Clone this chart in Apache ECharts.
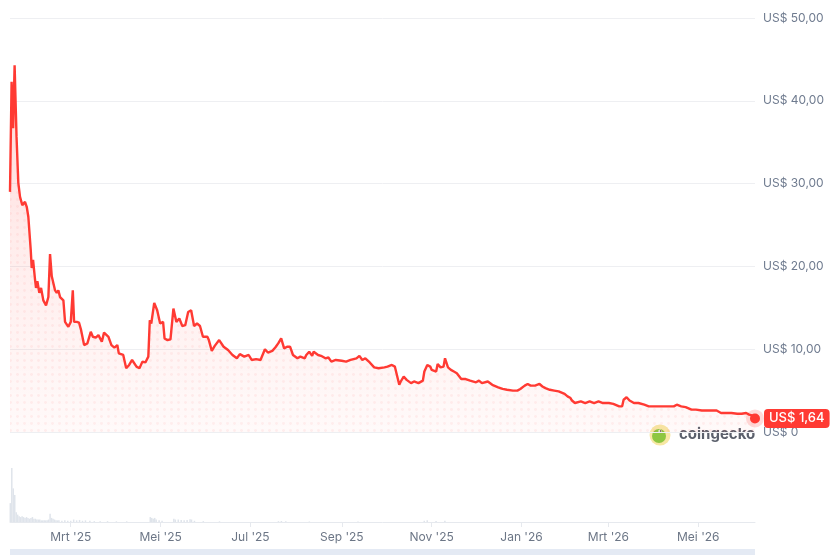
<!DOCTYPE html>
<html>
<head>
<meta charset="utf-8">
<script src="https://cdn.jsdelivr.net/npm/echarts@6.0.0/dist/echarts.min.js"></script>
<style>
html,body{margin:0;padding:0;background:#fff;}
#chart{width:836px;height:555px;}
</style>
</head>
<body>
<div id="chart"></div>
<script>
const dates = [
'2025-01-19 07:00','2025-01-20 09:00','2025-01-21 10:00','2025-01-22 10:00','2025-01-23 17:00','2025-01-24 22:00',
'2025-01-26 02:00','2025-01-27 15:00','2025-01-29 11:00','2025-01-30 15:00','2025-01-31 17:00','2025-02-02 08:00',
'2025-02-03 00:00','2025-02-03 22:00','2025-02-05 06:00','2025-02-05 22:00','2025-02-06 20:00','2025-02-08 04:00',
'2025-02-09 08:00','2025-02-10 21:00','2025-02-12 17:00','2025-02-14 07:00','2025-02-15 10:00','2025-02-16 14:00',
'2025-02-17 16:00','2025-02-18 20:00','2025-02-19 23:00','2025-02-21 01:00','2025-02-22 05:00','2025-02-23 09:00',
'2025-02-24 11:00','2025-02-25 14:00','2025-02-26 18:00','2025-02-27 20:00','2025-03-01 11:00','2025-03-02 20:00',
'2025-03-03 17:00','2025-03-05 13:00','2025-03-07 02:00','2025-03-08 11:00','2025-03-10 12:00','2025-03-12 17:00',
'2025-03-15 00:00','2025-03-16 10:00','2025-03-18 10:00','2025-03-20 05:00','2025-03-22 12:00',
'2025-03-24','2025-03-27','2025-03-29','2025-03-31','2025-04-02','2025-04-03','2025-04-06','2025-04-08','2025-04-10',
'2025-04-12','2025-04-15','2025-04-17','2025-04-19','2025-04-21','2025-04-23','2025-04-24','2025-04-25','2025-04-27',
'2025-04-29','2025-05-01','2025-05-03','2025-05-04','2025-05-06','2025-05-08','2025-05-10','2025-05-12','2025-05-14',
'2025-05-16','2025-05-18','2025-05-20','2025-05-22','2025-05-24','2025-05-26','2025-05-28','2025-05-30','2025-06-02',
'2025-06-03','2025-06-05','2025-06-07','2025-06-10','2025-06-13','2025-06-16','2025-06-19','2025-06-22','2025-06-24',
'2025-06-27','2025-06-30','2025-07-02','2025-07-05','2025-07-08','2025-07-09','2025-07-11','2025-07-13','2025-07-16',
'2025-07-18','2025-07-20','2025-07-22','2025-07-24','2025-07-26','2025-07-28','2025-07-30','2025-08-02','2025-08-04',
'2025-08-07','2025-08-08','2025-08-10','2025-08-12','2025-08-13','2025-08-16','2025-08-18','2025-08-21','2025-08-23',
'2025-08-25','2025-08-28','2025-09-01','2025-09-04','2025-09-07','2025-09-11','2025-09-13','2025-09-15','2025-09-17',
'2025-09-20','2025-09-23','2025-09-26','2025-09-30','2025-10-02','2025-10-05','2025-10-07','2025-10-10','2025-10-11',
'2025-10-13','2025-10-15','2025-10-18','2025-10-20','2025-10-23','2025-10-26','2025-10-27','2025-10-29','2025-10-31',
'2025-11-01','2025-11-04','2025-11-05','2025-11-07','2025-11-09','2025-11-10','2025-11-12','2025-11-14','2025-11-16',
'2025-11-18','2025-11-21','2025-11-24','2025-11-27','2025-12-01','2025-12-03','2025-12-05','2025-12-09','2025-12-12',
'2025-12-16','2025-12-19','2025-12-22','2025-12-26','2025-12-29','2025-12-31','2026-01-03','2026-01-05','2026-01-07',
'2026-01-10','2026-01-13','2026-01-15','2026-01-17','2026-01-20','2026-01-23','2026-01-26','2026-01-30','2026-02-01',
'2026-02-03','2026-02-04','2026-02-06','2026-02-10','2026-02-13','2026-02-16','2026-02-19','2026-02-22','2026-02-25',
'2026-03-01','2026-03-04','2026-03-08','2026-03-10','2026-03-11','2026-03-13','2026-03-15','2026-03-18','2026-03-21',
'2026-03-25','2026-03-28','2026-03-31','2026-04-04','2026-04-07','2026-04-11','2026-04-14','2026-04-16','2026-04-19',
'2026-04-22','2026-04-26','2026-04-29','2026-05-03','2026-05-06','2026-05-10','2026-05-13','2026-05-16','2026-05-20',
'2026-05-23','2026-05-27','2026-05-30','2026-06-02','2026-06-04','2026-06-06','2026-06-08'
];
const prices = [
29.0,42.3,36.7,44.3,35.7,30.1,
28.4,27.4,27.8,27.2,26.0,22.0,
19.8,20.8,18.4,17.4,18.2,16.8,
17.4,15.9,15.3,16.3,21.5,18.8,
18.8,17.1,16.8,17.1,16.3,16.5,
15.9,13.3,13.3,12.7,13.3,17.1,
13.3,13.3,13.2,12.3,10.5,10.7,
12.1,11.5,11.4,11.7,10.9,
12.0,11.5,10.5,10.2,10.5,9.5,9.3,7.7,8.1,
8.7,7.9,7.7,8.5,8.4,9.1,13.5,13.1,15.6,
14.7,13.1,13.3,11.3,11.1,11.2,14.9,13.3,13.7,
12.8,12.9,14.5,14.7,12.8,13.1,12.8,11.5,11.5,
11.1,9.8,10.4,11.1,10.3,9.9,9.3,8.9,9.4,
9.1,9.3,8.7,8.8,8.7,8.9,10.0,9.6,9.8,
10.2,10.7,11.3,10.1,10.3,10.3,9.3,8.9,9.1,
8.9,9.3,9.7,9.2,9.7,9.3,9.2,8.9,9.0,
8.5,8.7,8.6,8.5,8.7,8.9,9.2,8.7,8.9,
8.4,7.8,7.7,7.8,7.9,8.1,7.9,5.7,6.1,
6.7,6.3,5.9,6.1,5.9,6.2,7.3,8.1,7.9,
7.5,7.3,8.2,7.8,7.9,8.9,7.8,7.5,7.3,
7.1,6.4,6.4,6.2,6.0,6.2,5.9,6.1,5.7,
5.4,5.2,5.1,5.0,5.0,5.2,5.6,5.8,5.6,
5.6,5.8,5.5,5.3,5.1,5.0,4.9,4.6,4.3,
4.1,3.8,3.5,3.7,3.5,3.7,3.5,3.7,3.5,
3.5,3.4,3.1,3.1,3.9,4.2,3.8,3.5,3.5,
3.3,3.1,3.1,3.1,3.1,3.1,3.1,3.3,3.1,
3.0,2.7,2.7,2.6,2.6,2.6,2.6,2.3,2.3,
2.3,2.2,2.2,2.3,2.1,2.0,1.64
];
const volDates = [
'2025-01-19','2025-01-20','2025-01-21','2025-01-22','2025-01-23','2025-01-24','2025-01-25','2025-01-26','2025-01-27',
'2025-01-28','2025-01-29','2025-01-30','2025-01-31','2025-02-01','2025-02-02','2025-02-03','2025-02-04','2025-02-05',
'2025-02-06','2025-02-07','2025-02-08','2025-02-09','2025-02-10','2025-02-11','2025-02-12','2025-02-13','2025-02-14',
'2025-02-15','2025-02-16','2025-02-17','2025-02-18','2025-02-19','2025-02-20','2025-02-21','2025-02-23','2025-02-25',
'2025-02-27','2025-03-01','2025-03-03','2025-03-05','2025-03-07','2025-03-09','2025-03-11','2025-03-14','2025-03-17',
'2025-03-21','2025-03-26','2025-04-01','2025-04-08','2025-04-24','2025-04-25','2025-04-26','2025-04-27','2025-04-28',
'2025-04-30','2025-05-02','2025-05-10','2025-05-11','2025-05-13','2025-05-15','2025-05-17','2025-05-19','2025-05-21',
'2025-05-22','2025-05-24','2025-05-30','2025-06-10','2025-07-20','2025-07-22','2025-07-25','2025-08-10','2025-09-12',
'2025-10-27','2025-10-29','2025-11-04','2025-11-10'
];
const volumes = [
23,66,41,33,12,9,7,6,7,
6,5,6,5,4,5,6,4,4,
3,3,3,2,2,2,2,2,3,
10,5,4,3,2,2,2,1.5,2,
1.5,1.5,3,2,2.5,1.5,2,1.5,1,
1,1,0.8,0.8,6,5,4,5,3,
2,1.5,4,3,3,2.5,2,2.5,3.5,
3,1.5,1,0.8,1,1.2,0.8,0.6,0.6,
1.5,2,1.2,1.5
];
const monthNames = ['Jan','Feb','Mrt','Apr','Mei','Jun','Jul','Aug','Sep','Okt','Nov','Dec'];
const yTicks = [0,10,20,30,40,50];
const yTickLabels = ['US$ 0','US$ 10,00','US$ 20,00','US$ 30,00','US$ 40,00','US$ 50,00'];

const RED = '#ff3a33';
const FONT = 'Inter, "Noto Sans", sans-serif';
const pc = document.createElement('canvas');
pc.width = 7; pc.height = 7;
const pctx = pc.getContext('2d');
pctx.fillStyle = 'rgba(255,58,51,0.09)';
pctx.beginPath(); pctx.arc(3.5, 3.5, 1.4, 0, Math.PI * 2); pctx.fill();

const priceData = dates.map((d, i) => [d, prices[i]]);
const volData = volDates.map((d, i) => [d, volumes[i]]);
const last = priceData[priceData.length - 1];
const xMin = dates[0];
const xMax = dates[dates.length - 1];
const DAY = 86400000;

const chart = echarts.init(document.getElementById('chart'));
chart.setOption({
  animation: false,
  textStyle: { fontFamily: FONT },
  grid: [
    { left: 10, right: 81, top: 18, height: 414 },
    { left: 10, right: 81, top: 440, height: 82 }
  ],
  xAxis: [
    { type: 'time', gridIndex: 0, min: xMin, max: xMax, show: false, splitLine: { show: false } },
    {
      type: 'time', gridIndex: 1, min: xMin, max: xMax,
      splitNumber: 8, minInterval: 62 * DAY, maxInterval: 75 * DAY,
      axisLine: { lineStyle: { color: '#e6e9ee', width: 1 } },
      axisTick: { show: true, length: 5, lineStyle: { color: '#e6e9ee' } },
      splitLine: { show: false },
      axisLabel: {
        color: '#6c7686', fontSize: 12, margin: 9, fontFamily: FONT,
        formatter: function (v) {
          const d = new Date(v);
          return monthNames[d.getMonth()] + " '" + String(d.getFullYear()).slice(2);
        }
      }
    }
  ],
  yAxis: [
    {
      type: 'value', gridIndex: 0, position: 'right', min: 0, max: 50, interval: 10,
      axisLine: { show: false }, axisTick: { show: false },
      splitLine: { lineStyle: { color: '#eeeff2', width: 1 } },
      axisLabel: {
        color: '#6f7b8f', fontSize: 12, margin: 8, fontFamily: FONT,
        formatter: function (v) { const i = yTicks.indexOf(v); return i >= 0 ? yTickLabels[i] : ''; }
      }
    },
    { type: 'value', gridIndex: 1, min: 0, max: 100, show: false, splitLine: { show: false } }
  ],
  series: [
    {
      type: 'line', xAxisIndex: 0, yAxisIndex: 0, data: priceData, showSymbol: false,
      lineStyle: { width: 0 }, silent: true,
      areaStyle: { color: { image: pc, repeat: 'repeat' } }, z: 2
    },
    {
      type: 'line', xAxisIndex: 0, yAxisIndex: 0, data: priceData, showSymbol: false,
      lineStyle: { color: RED, width: 2.4 },
      areaStyle: {
        color: new echarts.graphic.LinearGradient(0, 0, 0, 1, [
          { offset: 0, color: 'rgba(255,58,51,0.30)' },
          { offset: 0.45, color: 'rgba(255,58,51,0.14)' },
          { offset: 1, color: 'rgba(255,58,51,0.04)' }
        ])
      }, z: 3
    },
    {
      type: 'bar', xAxisIndex: 1, yAxisIndex: 1, data: volData, barWidth: 1.5,
      itemStyle: { color: '#dfe4eb' }
    },
    {
      type: 'scatter', xAxisIndex: 0, yAxisIndex: 0, data: [last], symbolSize: 18, clip: false,
      itemStyle: { color: 'rgba(255,58,51,0.18)', opacity: 1 }, z: 4, silent: true
    },
    {
      type: 'scatter', xAxisIndex: 0, yAxisIndex: 0, data: [last], symbolSize: 10, clip: false,
      itemStyle: { color: RED, opacity: 1 }, z: 5,
      label: {
        show: true, position: 'right', distance: 4, opacity: 1,
        formatter: function (p) { return 'US$ ' + p.value[1].toFixed(2).replace('.', ','); },
        color: '#ffffff', fontSize: 13, fontWeight: 500, fontFamily: FONT,
        backgroundColor: RED, borderRadius: 4, padding: [3, 5, 3, 5]
      }
    }
  ],
  graphic: [
    { type: 'rect', left: 10, bottom: 0, shape: { width: 745, height: 6 }, style: { fill: '#e4eaf4' }, silent: true },
    { type: 'circle', shape: { cx: 660, cy: 435, r: 10.5 }, style: { fill: '#f7e7a4' }, silent: true },
    { type: 'circle', shape: { cx: 659, cy: 436, r: 7 }, style: { fill: '#8dc641' }, silent: true },
    { type: 'circle', shape: { cx: 660, cy: 431, r: 1.6 }, style: { fill: '#ffffff' }, silent: true },
    { type: 'circle', shape: { cx: 660.4, cy: 431, r: 0.8 }, style: { fill: '#333' }, silent: true },
    { type: 'text', x: 679, y: 434, style: { text: 'coingecko', fill: '#5b606c', font: 'bold 15px ' + FONT, textVerticalAlign: 'middle' }, silent: true }
  ]
});
</script>
</body>
</html>
